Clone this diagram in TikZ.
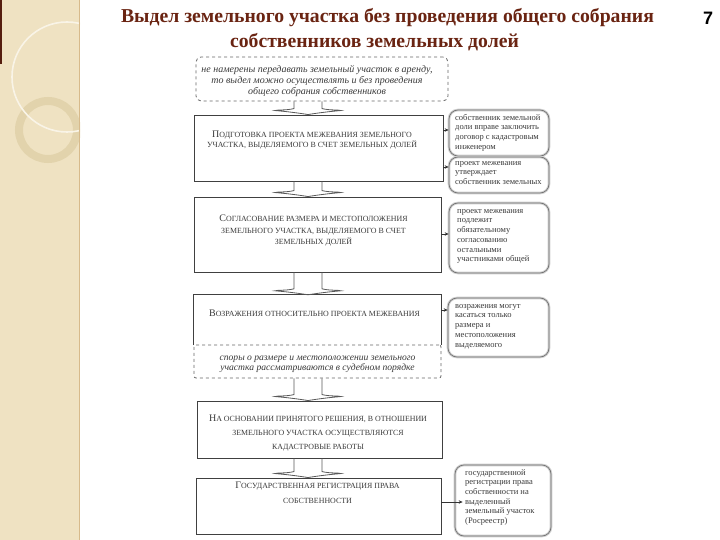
\documentclass[tikz,border=0pt]{standalone}
\usepackage{fontspec}
\setmainfont{Liberation Serif}
\setsansfont{Liberation Sans}
\usetikzlibrary{arrows.meta,calc}
\definecolor{titlec}{HTML}{6A2412}
\definecolor{beige}{HTML}{EFE2C2}
\definecolor{beigedk}{HTML}{E2D3AC}
\definecolor{framec}{HTML}{404040}
\definecolor{txtc}{HTML}{3A3A3A}
\newcommand\fl[1]{{\fontsize{10}{10}\selectfont #1}}
\tikzset{
  mainbox/.style={draw=framec, line width=0.9pt, inner sep=0pt},
  plainbox/.style={inner sep=0pt},
  dashbox/.style={draw=black!60, dashed, line width=0.8pt, rounded corners=5pt, inner sep=0pt},
  sidebox/.style={draw=black!55, line width=0.7pt, rounded corners=9pt, inner sep=0pt,
     preaction={draw=black!18, line width=2.6pt}},
  maintext/.style={align=center, text=txtc, inner sep=0pt, font=\fontsize{7.9}{9.5}\selectfont},
  itext/.style={align=center, text=txtc, inner sep=0pt, font=\fontsize{10}{11}\selectfont\itshape},
  sidetext/.style={align=left, text=txtc, inner sep=0pt, anchor=north west, font=\fontsize{8.5}{9.7}\selectfont},
  sidearrow/.style={draw=black!80, line width=0.8pt, -{Stealth[length=4pt,width=3.5pt]}},
  barrow/.style={draw=black!65, line width=0.8pt},
  titletext/.style={text=titlec, inner sep=0pt, font=\fontsize{19.7}{22}\selectfont\bfseries},
}
\newcommand\blockarrow[2]{%
  \draw[barrow] ($(#1.south -| ax)+(-14,0)$) -- ($(#2.north -| ax)+(-14,-6)$)
    .. controls ($(#2.north -| ax)+(-22,-4)$) and ($(#2.north -| ax)+(-30,-5)$) .. ($(#2.north -| ax)+(-33,-4)$)
    .. controls ($(#2.north -| ax)+(-20,-3)$) and ($(#2.north -| ax)+(-6,-1)$) .. (#2.north -| ax)
    .. controls ($(#2.north -| ax)+(6,-1)$) and ($(#2.north -| ax)+(20,-3)$) .. ($(#2.north -| ax)+(33,-4)$)
    .. controls ($(#2.north -| ax)+(30,-5)$) and ($(#2.north -| ax)+(22,-4)$) .. ($(#2.north -| ax)+(14,-6)$)
    -- ($(#1.south -| ax)+(14,0)$);}
\begin{document}
\begin{tikzpicture}[x=1pt,y=-1pt]
\useasboundingbox (0,0) rectangle (720,540);
\fill[white] (0,0) rectangle (720,540);
% left decorative strip
\begin{scope}
\clip (0,0) rectangle (80,540);
\fill[beige] (0,0) rectangle (80,540);
\draw[beigedk, line width=8pt] (48,130) circle (29);
\draw[white!60!beige, line width=1.6pt] (67,77) circle (55);
\fill[titlec!80!black] (0,0) rectangle (2,64);
\draw[beigedk!70!brown, line width=0.8pt] (79.5,0) -- (79.5,540);
\end{scope}
% title
\node[titletext] (t1) at (387.5,18) {Выдел земельного участка без проведения общего собрания};
\node[titletext] (t2) at (374.5,42) {собственников земельных долей};
\node[inner sep=0pt, font=\sffamily\bfseries\fontsize{18}{20}\selectfont] (pg) at (708,18) {7};
\coordinate (ax) at (308,0);
% main column
\node[dashbox, minimum width=252pt, minimum height=44pt] (d1) at (322,79) {};
\node[itext] (d1t) at (317,81) {не намерены передавать земельный участок в аренду,\\то выдел можно осуществлять и без проведения\\общего собрания собственников};
\node[mainbox, minimum width=249pt, minimum height=66pt] (b1) at (318.5,148) {};
\node[maintext] (b1t) at (312,140) {\fl{П}ОДГОТОВКА ПРОЕКТА МЕЖЕВАНИЯ ЗЕМЕЛЬНОГО\\УЧАСТКА, ВЫДЕЛЯЕМОГО В СЧЕТ ЗЕМЕЛЬНЫХ ДОЛЕЙ};
\node[mainbox, minimum width=247pt, minimum height=75pt] (b2) at (317.5,234.5) {};
\node[maintext, font=\fontsize{7.9}{11.5}\selectfont] (b2t) at (313.5,231) {\fl{С}ОГЛАСОВАНИЕ РАЗМЕРА И МЕСТОПОЛОЖЕНИЯ\\ЗЕМЕЛЬНОГО УЧАСТКА, ВЫДЕЛЯЕМОГО В СЧЕТ\\ЗЕМЕЛЬНЫХ ДОЛЕЙ};
\node[plainbox, minimum width=247pt, minimum height=50pt] (b3) at (317.5,320) {};
\draw[framec, line width=0.9pt] (b3.south west) -- (b3.north west) -- (b3.north east) -- (b3.south east);
\node[maintext] (b3t) at (314.5,313) {\fl{В}ОЗРАЖЕНИЯ ОТНОСИТЕЛЬНО ПРОЕКТА МЕЖЕВАНИЯ};
\node[dashbox, rounded corners=2pt, minimum width=247pt, minimum height=33pt] (d2) at (317.5,361.5) {};
\node[itext, font=\fontsize{9.6}{10}\selectfont\itshape] (d2t) at (317.5,364.5) {споры о размере и местоположении земельного\\участка рассматриваются в судебном порядке};
\node[mainbox, minimum width=245pt, minimum height=57pt] (b4) at (319.5,429.5) {};
\node[maintext, font=\fontsize{7.9}{14}\selectfont] (b4t) at (318,433) {\fl{Н}А ОСНОВАНИИ ПРИНЯТОГО РЕШЕНИЯ, В ОТНОШЕНИИ\\ЗЕМЕЛЬНОГО УЧАСТКА ОСУЩЕСТВЛЯЮТСЯ\\КАДАСТРОВЫЕ РАБОТЫ};
\node[mainbox, minimum width=245pt, minimum height=56pt] (b5) at (318.5,506) {};
\node[maintext, font=\fontsize{7.9}{15}\selectfont] (b5t) at (317.5,492.5) {\fl{Г}ОСУДАРСТВЕННАЯ РЕГИСТРАЦИЯ ПРАВА\\СОБСТВЕННОСТИ};
% block arrows
\blockarrow{d1}{b1}
\blockarrow{b1}{b2}
\blockarrow{b2}{b3}
\blockarrow{d2}{b4}
\blockarrow{b4}{b5}
% side boxes
\node[sidebox, minimum width=100pt, minimum height=46pt] (r1) at (499,133) {};
\node[sidetext] (r1t) at (455,114) {собственник земельной\\доли вправе заключить\\договор с кадастровым\\инженером};
\node[sidebox, minimum width=100pt, minimum height=36pt] (r2) at (499,175) {};
\node[sidetext] (r2t) at (455,161) {проект межевания\\утверждает\\собственник земельных};
\node[sidebox, minimum width=100pt, minimum height=70pt] (r3) at (499,238) {};
\node[sidetext] (r3t) at (457,209) {проект межевания\\подлежит\\обязательному\\согласованию\\остальными\\участниками общей};
\node[sidebox, minimum width=101pt, minimum height=59pt] (r4) at (498.5,327.5) {};
\node[sidetext] (r4t) at (455,304) {возражения могут\\касаться только\\размера и\\местоположения\\выделяемого};
\node[sidebox, minimum width=96pt, minimum height=71pt] (r5) at (503,500.5) {};
\node[sidetext] (r5t) at (465,469) {государственной\\регистрации права\\собственности на\\выделенный\\земельный участок\\(Росреестр)};
% side arrows
\coordinate (y1) at (0,130);
\coordinate (y2) at (0,167);
\coordinate (y3) at (0,234);
\coordinate (y4) at (0,310);
\coordinate (y5) at (0,502);
\draw[sidearrow] (b1.east |- y1) -- (r1.west |- y1);
\draw[sidearrow] (b1.east |- y2) -- (r2.west |- y2);
\draw[sidearrow] (b2.east |- y3) -- (r3.west |- y3);
\draw[sidearrow] (b3.east |- y4) -- (r4.west |- y4);
\draw[sidearrow] (b5.east |- y5) -- ($(r5.west |- y5)+(8,0)$);
\end{tikzpicture}
\end{document}
